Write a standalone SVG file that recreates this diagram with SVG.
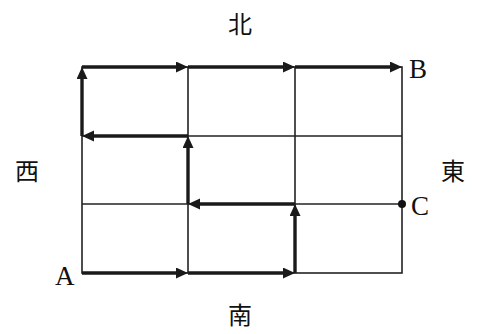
<svg xmlns="http://www.w3.org/2000/svg" width="483" height="334" viewBox="0 0 483 334">
<style>
.grid{stroke:#222;stroke-width:1.6;fill:none}
.path{stroke:#1a1a1a;stroke-width:3.4;fill:none;marker-end:url(#ah)}
.lbl{font-family:"Liberation Serif",serif;font-size:27px;fill:#111}
.cjk{font-family:"Noto Sans CJK JP","Noto Sans CJK SC",sans-serif;font-size:24px;fill:#111}
</style>
<defs>
<marker id="ah" markerUnits="userSpaceOnUse" markerWidth="14" markerHeight="12" refX="2" refY="5.5" orient="auto">
<path d="M0,0 L12,5.5 L0,11 z" fill="#1a1a1a"/>
</marker>
</defs>
<rect width="483" height="334" fill="#fff"/>
<g id="grid">
<rect class="grid" x="82" y="67" width="320" height="206"/>
<line class="grid" x1="188" y1="67" x2="188" y2="273"/>
<line class="grid" x1="295" y1="67" x2="295" y2="273"/>
<line class="grid" x1="82" y1="136" x2="402" y2="136"/>
<line class="grid" x1="82" y1="204" x2="402" y2="204"/>
</g>
<g id="connectors">
<line class="path" x1="82" y1="273" x2="178" y2="273"/>
<line class="path" x1="188" y1="273" x2="285" y2="273"/>
<line class="path" x1="295" y1="273" x2="295" y2="214"/>
<line class="path" x1="295" y1="204" x2="198" y2="204"/>
<line class="path" x1="188" y1="204" x2="188" y2="146"/>
<line class="path" x1="188" y1="136" x2="92" y2="136"/>
<line class="path" x1="82" y1="136" x2="82" y2="77"/>
<line class="path" x1="82" y1="67" x2="178" y2="67"/>
<line class="path" x1="188" y1="67" x2="285" y2="67"/>
<line class="path" x1="295" y1="67" x2="392" y2="67"/>
</g>
<g id="nodeC"><circle cx="402" cy="204" r="4" fill="#111"/><text class="lbl" x="411" y="215">C</text></g>
<g id="nodeA"><text class="lbl" x="55" y="285">A</text></g>
<g id="nodeB"><text class="lbl" x="409" y="78">B</text></g>
<g id="north"><text class="cjk" x="240" y="33" text-anchor="middle">北</text></g>
<g id="south"><text class="cjk" x="240" y="324" text-anchor="middle">南</text></g>
<g id="west"><text class="cjk" x="27" y="180" text-anchor="middle">西</text></g>
<g id="east"><text class="cjk" x="453" y="180" text-anchor="middle">東</text></g>
</svg>
